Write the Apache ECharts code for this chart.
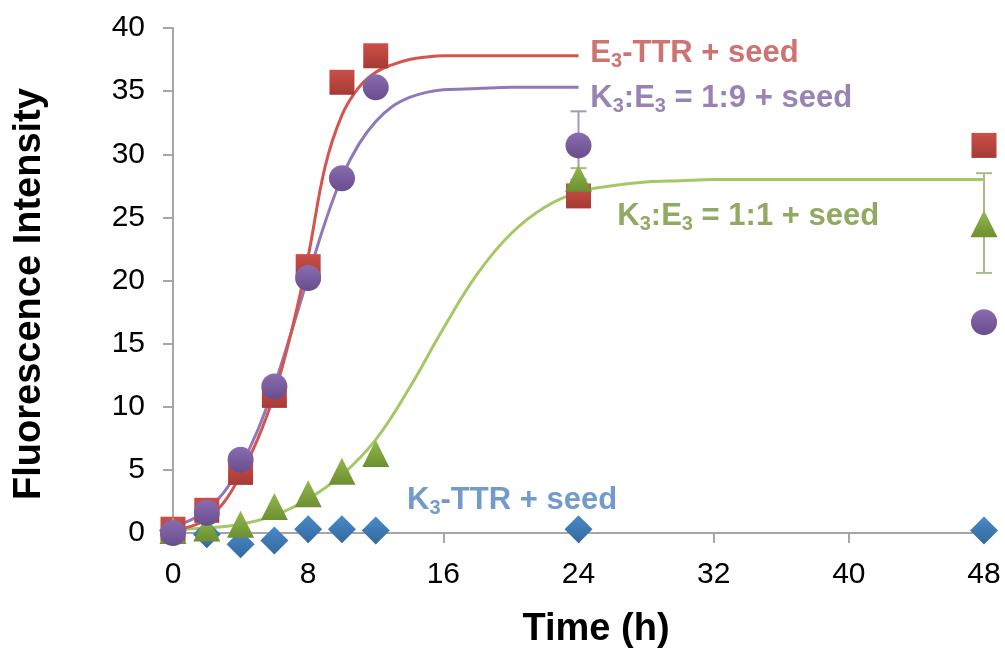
<!DOCTYPE html>
<html>
<head>
<meta charset="utf-8">
<script src="https://cdn.jsdelivr.net/npm/echarts@6/dist/echarts.min.js"></script>
<style>
html,body{margin:0;padding:0;background:#fff;}
#chart{width:1005px;height:652px;}
</style>
</head>
<body>
<div id="chart"></div>
<script>
// ---- data ----
const hours = [0, 2, 4, 6, 8, 10, 12, 24, 48];
const e3Seed = [0.3, 1.8, 4.8, 10.9, 21.1, 35.7, 37.8, 26.7, 30.7];
const k19Seed = [0.0, 1.6, 5.8, 11.6, 20.2, 28.1, 35.3, 30.7, 16.7];
const k11Seed = [0.2, 0.4, 0.7, 2.1, 3.1, 4.9, 6.3, 28.1, 24.5];
const k3Seed = [0.2, -0.1, -0.9, -0.6, 0.3, 0.3, 0.2, 0.3, 0.2];

// fitted curves
const e3FitX = [0, 1, 2, 3, 4, 5, 6, 7, 8, 9, 10, 11, 12, 13, 14, 15, 16, 18, 20, 22, 24];
const e3FitY = [0.2, 0.5, 1.1, 2.4, 4.6, 7.4, 11.0, 15.9, 21.9, 29.0, 33.1, 35.3, 36.5, 37.1, 37.5, 37.7, 37.8, 37.8, 37.8, 37.8, 37.8];
const k19FitX = [0, 1, 2, 3, 4, 5, 6, 7, 8, 9, 10, 11, 12, 13, 14, 15, 16, 18, 20, 22, 24];
const k19FitY = [0.5, 1.0, 1.8, 3.2, 5.3, 8.1, 11.7, 15.9, 20.3, 24.6, 28.2, 30.8, 32.6, 33.8, 34.5, 34.9, 35.1, 35.2, 35.3, 35.3, 35.3];
const k11FitX = [0, 2, 4, 6, 8, 10, 12, 14, 16, 18, 20, 22, 24, 26, 28, 30, 32, 34, 36, 38, 40, 42, 44, 46, 48];
const k11FitY = [0.3, 0.4, 0.7, 1.4, 2.7, 4.6, 7.4, 11.5, 16.2, 20.5, 23.7, 25.8, 27.0, 27.5, 27.8, 27.9, 28.0, 28.0, 28.0, 28.0, 28.0, 28.0, 28.0, 28.0, 28.0];

// error bars
const k19ErrX = [24], k19ErrLow = [28.0], k19ErrHigh = [33.4];
const k11ErrX = [24, 48], k11ErrLow = [27.2, 20.6], k11ErrHigh = [28.9, 28.5];

// axes
const xTicks = [0, 8, 16, 24, 32, 40, 48];
const yTicks = [0, 5, 10, 15, 20, 25, 30, 35, 40];
const xTitle = 'Time (h)';
const yTitle = 'Fluorescence Intensity';

// curve labels: [x, y] anchor in data units
const labelE3 = {pos: [24.7, 38.0], parts: [['m', 'E'], ['s', '3'], ['m', '-TTR + seed']], color: '#C0504D'};
const labelK19 = {pos: [24.7, 34.4], parts: [['m', 'K'], ['s', '3'], ['m', ':E'], ['s', '3'], ['m', ' = 1:9 + seed']], color: '#8064A2'};
const labelK11 = {pos: [26.3, 25.1], parts: [['m', 'K'], ['s', '3'], ['m', ':E'], ['s', '3'], ['m', ' = 1:1 + seed']], color: '#77933C'};
const labelK3 = {pos: [13.85, 2.6], parts: [['m', 'K'], ['s', '3'], ['m', '-TTR + seed']], color: '#4F81BD'};

// ---- build ----
const FONT = '"Liberation Sans", Arial, Helvetica, sans-serif';
const pairs = (xs, ys) => xs.map((x, i) => [x, ys[i]]);
function grad(top, bottom) {
  return new echarts.graphic.LinearGradient(0, 0, 0, 1, [{offset: 0, color: top}, {offset: 1, color: bottom}]);
}
function errSeries(xs, lo, hi, color) {
  return {
    type: 'custom', z: 3, silent: true,
    data: xs.map((x, i) => [x, lo[i], hi[i]]),
    renderItem: function (params, api) {
      const top = api.coord([api.value(0), api.value(2)]);
      const bot = api.coord([api.value(0), api.value(1)]);
      const w = 8;
      const st = {stroke: color, lineWidth: 2};
      return {type: 'group', children: [
        {type: 'line', shape: {x1: top[0], y1: top[1], x2: bot[0], y2: bot[1]}, style: st},
        {type: 'line', shape: {x1: top[0] - w, y1: top[1], x2: top[0] + w, y2: top[1]}, style: st},
        {type: 'line', shape: {x1: bot[0] - w, y1: bot[1], x2: bot[0] + w, y2: bot[1]}, style: st}
      ]};
    }
  };
}
function fitSeries(xs, ys, color) {
  return {type: 'line', data: pairs(xs, ys), smooth: 0.4, showSymbol: false,
    symbol: 'none', lineStyle: {color: color, width: 3}, z: 2, silent: true, clip: false};
}
function scatterSeries(ys, symbol, size, fill, z) {
  return {type: 'scatter', data: pairs(hours, ys), symbol: symbol, symbolSize: size,
    itemStyle: {color: fill, opacity: 1}, z: z, clip: false, silent: true};
}
function labelSeries(lbl) {
  const txt = lbl.parts.map(p => '{' + p[0] + '|' + p[1] + '}').join('');
  return {type: 'scatter', data: [lbl.pos], symbolSize: 0, z: 10, silent: true, clip: false,
    label: {show: true, position: 'right', distance: 0, formatter: txt,
      rich: {
        m: {fontSize: 31, fontWeight: 'bold', color: lbl.color, fontFamily: FONT, lineHeight: 36},
        s: {fontSize: 20, fontWeight: 'bold', color: lbl.color, fontFamily: FONT, lineHeight: 14, verticalAlign: 'bottom'}
      }}};
}

const chart = echarts.init(document.getElementById('chart'), null, {renderer: 'canvas'});
const option = {
  backgroundColor: '#ffffff',
  animation: false,
  grid: {left: 173, right: 21, top: 28, bottom: 119, containLabel: false},
  xAxis: {
    type: 'value', min: xTicks[0], max: xTicks[xTicks.length - 1], interval: xTicks[1] - xTicks[0],
    axisLine: {show: true, onZero: false, lineStyle: {color: '#A6A6A6', width: 2}},
    axisTick: {show: true, length: 10, lineStyle: {color: '#A6A6A6', width: 2}},
    axisLabel: {fontSize: 30, color: '#000', fontFamily: FONT, margin: 27},
    splitLine: {show: false}
  },
  yAxis: {
    type: 'value', min: yTicks[0], max: yTicks[yTicks.length - 1], interval: yTicks[1] - yTicks[0],
    axisLine: {show: true, lineStyle: {color: '#A6A6A6', width: 2}},
    axisTick: {show: true, length: 10, lineStyle: {color: '#A6A6A6', width: 2}},
    axisLabel: {fontSize: 30, color: '#000', fontFamily: FONT, margin: 28},
    splitLine: {show: false}
  },
  graphic: [
    {type: 'text', x: 596, y: 630, style: {text: xTitle, font: 'bold 38px ' + FONT, fill: '#000', align: 'center', verticalAlign: 'middle'}},
    {type: 'text', x: 30, y: 294, rotation: Math.PI / 2, style: {text: yTitle, font: 'bold 38px ' + FONT, fill: '#000', align: 'center', verticalAlign: 'middle'}}
  ],
  series: [
    fitSeries(k11FitX, k11FitY, '#A5C866'),
    fitSeries(k19FitX, k19FitY, '#9079B8'),
    fitSeries(e3FitX, e3FitY, '#D4554F'),
    errSeries(k19ErrX, k19ErrLow, k19ErrHigh, '#A599B8'),
    errSeries(k11ErrX, k11ErrLow, k11ErrHigh, '#A9BA8C'),
    scatterSeries(k3Seed, 'diamond', 28, grad('#4A8AC8', '#33689F'), 4),
    scatterSeries(e3Seed, 'rect', 25, grad('#CC4F48', '#A63A35'), 5),
    scatterSeries(k11Seed, 'triangle', 27, grad('#93B84E', '#6C8F30'), 6),
    scatterSeries(k19Seed, 'circle', 26, grad('#8A6CB0', '#684D8C'), 7),
    labelSeries(labelE3),
    labelSeries(labelK19),
    labelSeries(labelK11),
    labelSeries(labelK3)
  ]
};
chart.setOption(option);
</script>
</body>
</html>
